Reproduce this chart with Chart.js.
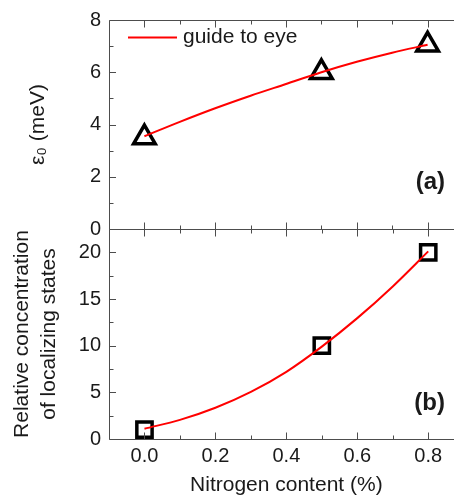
<!DOCTYPE html>
<html>
<head>
<meta charset="utf-8">
<script src="https://cdn.jsdelivr.net/npm/chart.js@4.4.0/dist/chart.umd.min.js"></script>
<style>
  html, body { margin: 0; padding: 0; background: #fff; overflow: hidden; }
  #wrap { position: relative; width: 454px; height: 497px; overflow: hidden; }
  canvas { position: absolute; left: 0; }
  #chart-a { top: 0; }
  #chart-b { top: 209px; }
</style>
</head>
<body>
<div id="wrap">
  <canvas id="chart-a" width="479" height="249"></canvas>
  <canvas id="chart-b" width="478" height="288"></canvas>
</div>
<script>
// data
const nitrogen = [0.0, 0.5, 0.8];
const epsilon0 = [3.5, 6.0, 7.05];
const relConc = [1, 10, 20];

// red "guide to eye" curves
const guideX = [0.0, 0.1, 0.2, 0.3, 0.4, 0.5, 0.6, 0.7, 0.8];
const guideA = [3.55, 4.1, 4.62, 5.1, 5.55, 6.0, 6.4, 6.75, 7.05];
const guideB = [1.1, 2.05, 3.35, 5.05, 7.2, 9.9, 12.95, 16.35, 20.1];

// axes
const xTicks = [0.0, 0.2, 0.4, 0.6, 0.8];
const xTickLabels = ['0.0', '0.2', '0.4', '0.6', '0.8'];
const xMinor = [0.1, 0.3, 0.5, 0.7];
const yTicksA = [0, 2, 4, 6, 8];
const yMinorA = [1, 3, 5, 7];
const yTicksB = [0, 5, 10, 15, 20];
const yMinorB = [2.5, 7.5, 12.5, 17.5];

const textColor = '#1a1a1a';
const frameColor = '#4d4d4d';
Chart.defaults.font.family = "'Liberation Sans', Arial, sans-serif";
Chart.defaults.color = textColor;

function pts(xs, ys) {
	return xs.map((x, i) => ({x: x, y: ys[i]}));
}

// frame + inward ticks on every side
const frameTicks = {
	id: 'frameTicks',
	afterDraw(chart, args, opts) {
		const ctx = chart.ctx;
		const a = chart.chartArea;
		const sx = chart.scales.x, sy = chart.scales.y;
		ctx.save();
		ctx.strokeStyle = frameColor;
		ctx.lineWidth = 1;
		ctx.beginPath();
		const L = Math.round(a.left) + 0.5, R = Math.round(a.right) + 0.5;
		const T = Math.round(a.top) + 0.5, B = Math.round(a.bottom) + 0.5;
		ctx.moveTo(R, T); ctx.lineTo(L, T); ctx.lineTo(L, B); ctx.lineTo(R, B); ctx.lineTo(R, T);
		const tickX = (v, len) => {
			const p = Math.round(sx.getPixelForValue(v)) + 0.5;
			ctx.moveTo(p, T); ctx.lineTo(p, T + len);
			ctx.moveTo(p, B); ctx.lineTo(p, B - len);
		};
		const tickY = (v, len) => {
			const p = Math.round(sy.getPixelForValue(v)) + 0.5;
			ctx.moveTo(L, p); ctx.lineTo(L + len, p);
			ctx.moveTo(R, p); ctx.lineTo(R - len, p);
		};
		opts.xMajor.forEach(v => tickX(v, 7));
		opts.xMinor.forEach(v => tickX(v, 4));
		opts.yMajor.forEach(v => tickY(v, 6.5));
		opts.yMinor.forEach(v => tickY(v, 4));
		ctx.stroke();

		// panel tag
		ctx.fillStyle = textColor;
		ctx.font = "bold 24px 'Liberation Sans', Arial, sans-serif";
		ctx.textAlign = 'right';
		ctx.textBaseline = 'middle';
		ctx.fillText(opts.tag, 445, a.top + opts.tagDy);

		// legend line for the guide curve
		if (opts.legend) {
			const ds = chart.data.datasets[0];
			ctx.strokeStyle = ds.borderColor;
			ctx.lineWidth = 2;
			ctx.beginPath();
			ctx.moveTo(128, 37.5); ctx.lineTo(177, 37.5);
			ctx.stroke();
			ctx.font = "21px 'Liberation Sans', Arial, sans-serif";
			ctx.textAlign = 'left';
			ctx.fillText(ds.label, 183, 37.5);
		}
		ctx.restore();
	}
};

function baseOptions(yMin, yMax, yTicks, yTitle, yTitlePad, yTitleLH, pad) {
	return {
		responsive: false,
		animation: false,
		devicePixelRatio: 1,
		events: [],
		layout: { padding: pad },
		plugins: { legend: { display: false }, tooltip: { enabled: false } },
		scales: {
			x: {
				type: 'linear', min: -0.1, max: 0.9,
				grid: { display: false }, border: { display: false },
				afterBuildTicks: s => { s.ticks = xTicks.map(v => ({value: v})); },
				ticks: { font: { size: 20 }, color: textColor, padding: 5, callback: (v, i) => xTickLabels[i] }
			},
			y: {
				type: 'linear', min: yMin, max: yMax,
				grid: { display: false, drawTicks: false }, border: { display: false },
				afterBuildTicks: s => { s.ticks = yTicks.map(v => ({value: v})); },
				afterFit: s => { s.width = 109; },
				ticks: { font: { size: 20 }, color: textColor, padding: 8 },
				title: { display: true, text: yTitle, color: textColor,
					font: { size: 21, lineHeight: yTitleLH }, padding: { top: yTitlePad, bottom: 0 } }
			}
		}
	};
}

// (a) localization energy
const optA = baseOptions(0, 8, yTicksA, 'ε₀ (meV)', 26, 1.2, { top: 20, right: 0, bottom: 20, left: 0 });
optA.scales.x.display = false;
optA.plugins.frameTicks = { xMajor: xTicks, xMinor: xMinor, yMajor: yTicksA, yMinor: yMinorA, tag: '(a)', tagDy: 162, legend: true };

new Chart(document.getElementById('chart-a'), {
	type: 'scatter',
	data: {
		datasets: [{
			type: 'line',
			label: 'guide to eye',
			data: pts(guideX, guideA),
			borderColor: '#ff0000',
			borderWidth: 2,
			pointRadius: 0,
			fill: false,
			cubicInterpolationMode: 'monotone'
		}, {
			label: 'epsilon0',
			data: pts(nitrogen, epsilon0),
			showLine: false,
			pointStyle: 'triangle',
			pointRadius: 12.5,
			pointBorderWidth: 3.5,
			pointBorderColor: '#000',
			pointBackgroundColor: 'rgba(0,0,0,0)'
		}]
	},
	options: optA,
	plugins: [frameTicks]
});

// (b) relative concentration of localizing states
const optB = baseOptions(0, 22.5, yTicksB, ['Relative concentration', 'of localizing states'], 8.5, 27 / 21, { top: 20, right: 0, bottom: 0, left: 0 });
optB.scales.x.afterFit = s => { s.height = 58; };
optB.scales.x.grid.drawTicks = false;
optB.scales.x.title = { display: true, text: 'Nitrogen content (%)', color: textColor,
	font: { size: 21, lineHeight: 1 }, padding: { top: 0, bottom: 1 } };
optB.plugins.frameTicks = { xMajor: xTicks, xMinor: xMinor, yMajor: yTicksB, yMinor: yMinorB, tag: '(b)', tagDy: 174, legend: false };

new Chart(document.getElementById('chart-b'), {
	type: 'scatter',
	data: {
		datasets: [{
			type: 'line',
			label: 'guide to eye',
			data: pts(guideX, guideB),
			borderColor: '#ff0000',
			borderWidth: 2,
			pointRadius: 0,
			fill: false,
			cubicInterpolationMode: 'monotone'
		}, {
			label: 'concentration',
			data: pts(nitrogen, relConc),
			showLine: false,
			pointStyle: 'rect',
			pointRadius: 10.8,
			pointBorderWidth: 3.5,
			pointBorderColor: '#000',
			pointBackgroundColor: 'rgba(0,0,0,0)'
		}]
	},
	options: optB,
	plugins: [frameTicks]
});
</script>
</body>
</html>
